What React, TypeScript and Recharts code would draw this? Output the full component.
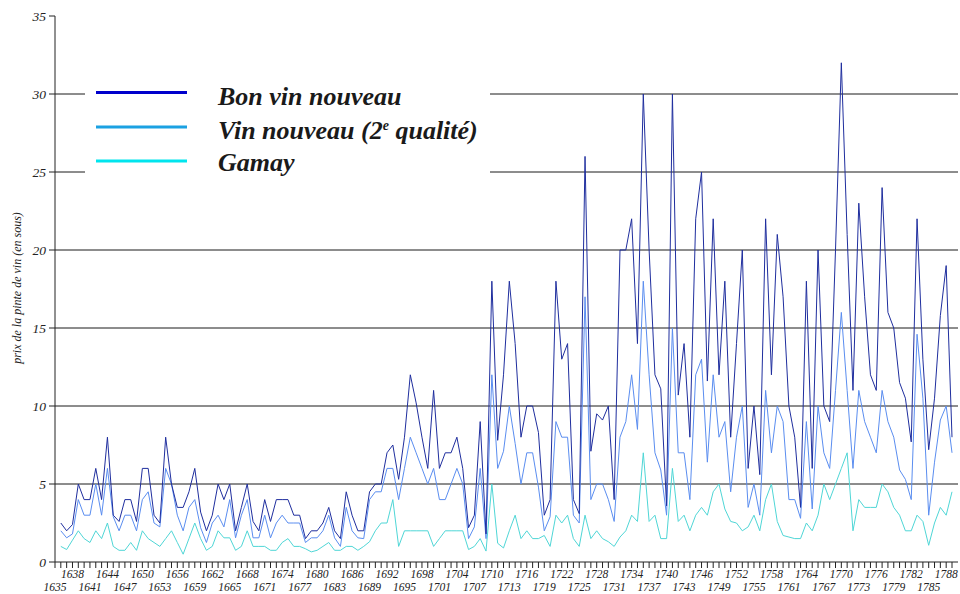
import React from "react";
import { LineChart, Line, XAxis, YAxis, CartesianGrid, Legend } from "recharts";

// Years on the category axis (1635 has no observation)
const firstYear = 1635;
const lastYear = 1789;
const years: number[] = [];
for (let y = firstYear; y <= lastYear; y++) years.push(y);

// Series values, 1636 .. 1789 (prix de la pinte, en sous)
const bonVinNouveau: number[] = [
  2.5, 2.0, 2.4, 5.0, 4.0, 4.0, 6.0, 4.0, 8.0, 3.0, // 1636-1645
  2.6, 4.0, 4.0, 2.6, 6.0, 6.0, 3.0, 2.5, 8.0, 5.0, // 1646-1655
  3.5, 3.5, 4.5, 6.0, 3.2, 2.0, 3.0, 5.0, 4.0, 5.0, // 1656-1665
  2.0, 3.5, 5.0, 2.6, 2.0, 4.0, 2.6, 4.0, 4.0, 4.0, // 1666-1675
  3.0, 3.0, 1.5, 2.0, 2.0, 2.5, 3.5, 2.0, 1.5, 4.5, // 1676-1685
  3.0, 2.0, 2.0, 4.5, 5.0, 5.0, 7.0, 7.5, 5.3, 8.0, // 1686-1695
  12.0, 10.2, 8.0, 6.0, 11.0, 6.0, 7.0, 7.0, 8.0, 6.0, // 1696-1705
  2.2, 3.0, 9.0, 1.8, 18.0, 7.8, 12.0, 18.0, 14.0, 8.0, // 1706-1715
  10.0, 10.0, 8.3, 3.0, 4.0, 18.0, 13.0, 14.0, 4.0, 3.1, // 1716-1725
  26.0, 7.1, 9.5, 9.1, 10.0, 4.0, 20.0, 20.0, 22.0, 14.0, // 1726-1735
  30.0, 20.0, 12.0, 11.1, 3.6, 30.0, 10.7, 14.0, 8.0, 22.0, // 1736-1745
  25.0, 11.6, 22.0, 12.0, 18.0, 8.0, 14.0, 20.0, 6.0, 10.0, // 1746-1755
  5.6, 22.0, 12.0, 21.0, 17.0, 10.0, 8.0, 3.5, 18.0, 6.0, // 1756-1765
  20.0, 10.0, 9.0, 20.0, 32.0, 21.0, 11.0, 23.0, 17.0, 12.0, // 1766-1775
  11.0, 24.0, 16.0, 15.0, 11.5, 10.5, 7.7, 22.0, 13.0, 7.2, // 1776-1785
  10.5, 15.8, 19.0, 8.0, // 1786-1789
];

const vinNouveau2: number[] = [
  2.0, 1.55, 1.8, 4.0, 3.0, 3.0, 5.0, 3.0, 6.0, 2.9, // 1636-1645
  2.0, 3.0, 3.0, 2.0, 4.0, 4.5, 2.5, 2.25, 6.0, 5.0, // 1646-1655
  3.0, 2.0, 3.5, 4.0, 2.2, 1.25, 2.5, 3.0, 2.25, 4.0, // 1656-1665
  1.55, 3.0, 4.0, 1.55, 1.55, 3.0, 1.55, 2.5, 3.0, 2.5, // 1666-1675
  2.5, 2.5, 1.25, 1.55, 1.55, 2.0, 3.0, 1.55, 1.0, 3.5, // 1676-1685
  2.0, 1.55, 1.5, 4.0, 4.5, 4.5, 6.0, 6.0, 4.0, 6.0, // 1686-1695
  8.0, 7.0, 6.0, 5.0, 6.0, 4.0, 4.0, 5.0, 6.0, 5.0, // 1696-1705
  1.5, 2.25, 6.0, 1.5, 12.0, 6.0, 7.1, 10.0, 7.6, 5.0, // 1706-1715
  7.0, 7.0, 4.8, 2.0, 2.9, 9.0, 8.0, 8.0, 3.0, 2.5, // 1716-1725
  17.0, 4.0, 5.0, 5.0, 4.0, 2.6, 8.0, 9.0, 12.0, 8.5, // 1726-1735
  18.0, 12.0, 7.0, 5.9, 3.0, 15.0, 7.0, 7.0, 4.0, 12.0, // 1736-1745
  13.0, 6.4, 12.0, 8.0, 9.0, 4.5, 8.0, 10.0, 3.5, 5.0, // 1746-1755
  3.0, 11.0, 7.0, 10.0, 9.0, 4.0, 4.0, 2.8, 9.0, 3.4, // 1756-1765
  10.0, 7.0, 6.0, 11.0, 16.0, 11.0, 6.0, 11.0, 9.0, 8.0, // 1766-1775
  7.0, 11.0, 9.0, 8.0, 5.9, 5.3, 4.0, 14.6, 10.5, 3.0, // 1776-1785
  6.4, 9.1, 10.0, 7.0, // 1786-1789
];

const gamay: number[] = [
  1.0, 0.8, 1.4, 2.0, 1.5, 1.25, 2.0, 1.5, 2.5, 1.0, // 1636-1645
  0.75, 0.75, 1.25, 0.75, 2.0, 1.5, 1.25, 1.0, 1.5, 2.0, // 1646-1655
  1.25, 0.5, 1.5, 2.5, 1.5, 0.75, 1.0, 2.0, 1.55, 1.55, // 1656-1665
  0.75, 1.0, 2.0, 1.0, 1.0, 1.0, 0.75, 0.75, 1.25, 1.5, // 1666-1675
  1.0, 1.0, 0.85, 0.65, 0.75, 1.0, 1.25, 0.75, 0.75, 1.0, // 1676-1685
  1.0, 0.75, 1.0, 1.3, 2.0, 2.5, 2.5, 4.0, 1.0, 2.0, // 1686-1695
  2.0, 2.0, 2.0, 2.0, 1.0, 1.5, 2.0, 2.0, 2.0, 2.0, // 1696-1705
  0.8, 1.0, 1.5, 0.7, 5.0, 1.2, 0.9, 2.0, 3.0, 1.5, // 1706-1715
  2.0, 1.5, 1.5, 1.7, 1.0, 3.0, 2.5, 3.0, 1.5, 1.0, // 1716-1725
  3.0, 1.5, 2.0, 1.5, 1.3, 1.0, 1.6, 2.0, 3.0, 2.6, // 1726-1735
  7.0, 2.6, 3.0, 1.5, 1.5, 6.0, 2.6, 3.0, 2.0, 3.0, // 1736-1745
  3.5, 3.0, 4.5, 5.0, 3.4, 2.6, 2.5, 2.0, 2.25, 3.0, // 1746-1755
  2.0, 4.0, 5.0, 2.6, 1.7, 1.6, 1.5, 1.5, 2.5, 2.0, // 1756-1765
  3.0, 5.0, 4.0, 5.0, 6.0, 7.0, 2.0, 4.0, 3.5, 3.5, // 1766-1775
  3.5, 5.0, 4.5, 3.5, 3.0, 2.0, 2.0, 3.0, 2.6, 1.07, // 1776-1785
  2.5, 3.5, 3.0, 4.5, // 1786-1789
];

const yTicks: number[] = [0, 5, 10, 15, 20, 25, 30, 35];
const gridValues: number[] = [5, 10, 15, 20, 25, 30];

const seriesNames = {
  bon: "Bon vin nouveau",
  vin: "Vin nouveau (2e qualité)",
  gamay: "Gamay",
};

const data = years.map((year, i) => ({
  year,
  bon: i === 0 ? null : bonVinNouveau[i - 1],
  vin: i === 0 ? null : vinNouveau2[i - 1],
  gamay: i === 0 ? null : gamay[i - 1],
}));

const FONT = "'Liberation Serif', 'DejaVu Serif', serif";

const XTick = (props: any) => {
  const { x, payload } = props;
  const yr = Number(payload?.value);
  const k = yr - firstYear;
  if (k % 3 !== 0) return <g />;
  const upper = (k / 3) % 2 === 1;
  return (
    <text
      x={x}
      y={upper ? 578 : 591}
      textAnchor="middle"
      fontFamily={FONT}
      fontStyle="italic"
      fontSize={11.5}
      fill="#222"
    >
      {yr}
    </text>
  );
};

const YTitle = () => (
  <text
    x={18}
    y={288}
    transform="rotate(-90 18 288)"
    textAnchor="middle"
    dominantBaseline="middle"
    fontFamily={FONT}
    fontStyle="italic"
    fontSize={12}
    fill="#222"
  >
    prix de la pinte de vin (en sous)
  </text>
);

const legendItems = [
  { label: "bon", color: "#0000CC", y: 14.5 },
  { label: "vin", color: "#1BA1E2", y: 49 },
  { label: "gamay", color: "#00E5EE", y: 83 },
];

const LegendContent = () => (
  <svg width={405} height={104} style={{ display: "block" }}>
    {legendItems.map((it) => (
      <line
        key={it.label}
        x1={11}
        x2={102}
        y1={it.y}
        y2={it.y}
        stroke={it.color}
        strokeWidth={3}
      />
    ))}
    <text x={133} y={27} fontFamily={FONT} fontStyle="italic" fontWeight="bold" fontSize={26} fill="#1a1a1a">
      {seriesNames.bon}
    </text>
    <text x={133} y={61} fontFamily={FONT} fontStyle="italic" fontWeight="bold" fontSize={26} fill="#1a1a1a">
      Vin nouveau (2
      <tspan dy={-9} fontSize={14}>e</tspan>
      <tspan dy={9}> qualité)</tspan>
    </text>
    <text x={133} y={93} fontFamily={FONT} fontStyle="italic" fontWeight="bold" fontSize={26} fill="#1a1a1a">
      {seriesNames.gamay}
    </text>
  </svg>
);

export default function App() {
  return (
    <div style={{ position: "absolute", left: 0, top: 0, width: 960, height: 594, background: "#fff" }}>
      <LineChart
        width={960}
        height={594}
        data={data}
        margin={{ top: 16, right: 2, left: 0, bottom: 0 }}
      >
        <CartesianGrid vertical={false} horizontalValues={gridValues} stroke="#1a1a1a" />
        <XAxis
          dataKey="year"
          type="category"
          interval={0}
          height={32}
          padding={{ left: 0, right: 6 }}
          tickSize={6}
          tickLine={{ stroke: "#222" }}
          axisLine={{ stroke: "#222" }}
          tick={<XTick />}
        />
        <YAxis
          width={55}
          domain={[0, 35]}
          ticks={yTicks}
          interval={0}
          tickSize={6}
          tickMargin={3}
          tickLine={{ stroke: "#222" }}
          axisLine={{ stroke: "#222" }}
          tick={{ fontFamily: FONT, fontStyle: "italic", fontSize: 13.5, fill: "#222" }}
          label={<YTitle />}
        />
        <YAxis
          yAxisId="r"
          orientation="right"
          width={0}
          domain={[0, 35]}
          tick={false}
          tickLine={false}
          axisLine={{ stroke: "#c4c4c4" }}
        />
        <Legend
          verticalAlign="middle"
          align="center"
          layout="horizontal"
          content={<LegendContent />}
          wrapperStyle={{ position: "absolute", left: 85, top: 78, width: 405, height: 104, background: "#fff" }}
        />
        <Line
          name={seriesNames.gamay}
          dataKey="gamay"
          type="linear"
          stroke="#4FD6D6"
          strokeWidth={1}
          dot={false}
          isAnimationActive={false}
        />
        <Line
          name={seriesNames.vin}
          dataKey="vin"
          type="linear"
          stroke="#5A8DF0"
          strokeWidth={1}
          dot={false}
          isAnimationActive={false}
        />
        <Line
          name={seriesNames.bon}
          dataKey="bon"
          type="linear"
          stroke="#1F2E9E"
          strokeWidth={1}
          dot={false}
          isAnimationActive={false}
        />
      </LineChart>
    </div>
  );
}
